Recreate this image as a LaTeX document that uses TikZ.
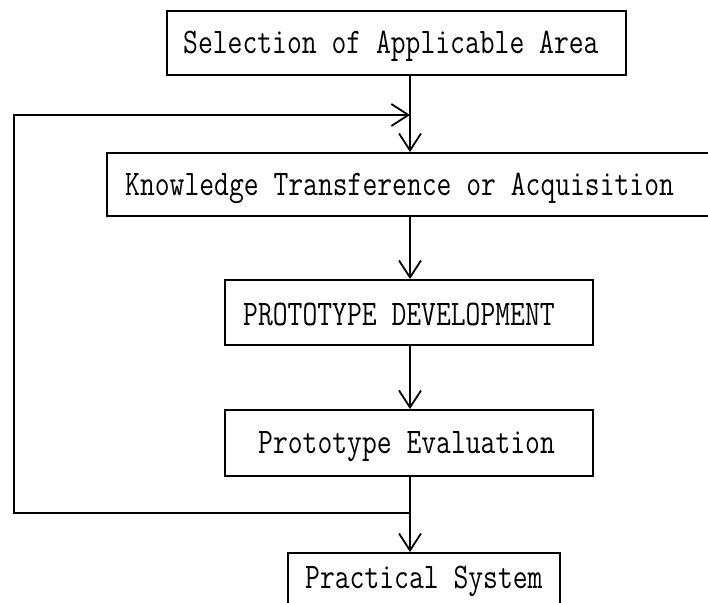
\documentclass[tikz,border=0pt]{standalone}
\usepackage{graphicx}
\usetikzlibrary{arrows.meta}

% condensed typewriter face for the box labels
\newcommand{\boxfont}[1]{\scalebox{0.8}[1]{\fontsize{36}{40}\selectfont\ttfamily #1}}

\tikzset{
  stagebox/.style={draw=black, line width=1.8pt, inner sep=0pt, anchor=center},
  stagetext/.style={inner sep=0pt, anchor=base west},
  flow/.style={line width=1.8pt, -{Straight Barb[length=17pt, width=22pt, line width=1.8pt]}},
  plainline/.style={line width=1.8pt}
}

\begin{document}
\begin{tikzpicture}[x=1pt, y=-1pt]
  \useasboundingbox (0,0) rectangle (708,602);

  % process stages
  \node[stagebox, minimum width=459pt, minimum height=64pt] (b1) at (396.5,43) {};
  \node[stagebox, minimum width=605pt, minimum height=63pt] (b2) at (409.5,184.5) {};
  \node[stagebox, minimum width=368pt, minimum height=65pt] (b3) at (409,312.5) {};
  \node[stagebox, minimum width=368pt, minimum height=66pt] (b4) at (409,443) {};
  \node[stagebox, minimum width=272pt, minimum height=67pt] (b5) at (424,586.5) {};

  % stage labels
  \node[stagetext] (t1) at (183,53)  {\boxfont{Selection of Applicable Area}};
  \node[stagetext] (t2) at (125,195) {\boxfont{Knowledge Transference or Acquisition}};
  \node[stagetext] (t3) at (243,325) {\boxfont{PROTOTYPE DEVELOPMENT}};
  \node[stagetext] (t4) at (258,453) {\boxfont{Prototype Evaluation}};
  \node[stagetext] (t5) at (305,588) {\boxfont{Practical System}};

  % junctions of the feedback loop
  \coordinate (j1) at (410,115);
  \coordinate (j2) at (410,513);
  \coordinate (c1) at (14,115);

  % main flow
  \draw[flow] (b1.south -| j1) -- (b2.north -| j1);
  \draw[flow] (b2.south -| j1) -- (b3.north -| j1);
  \draw[flow] (b3.south -| j1) -- (b4.north -| j1);
  \draw[flow] (b4.south -| j1) -- (b5.north -| j1);

  % feedback from evaluation back to knowledge acquisition
  \draw[flow] (j2) -| (c1) -- (j1);
\end{tikzpicture}
\end{document}
